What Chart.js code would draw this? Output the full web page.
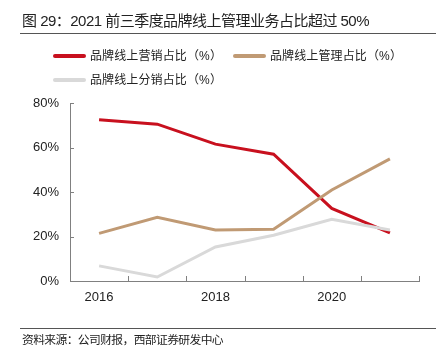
<!DOCTYPE html>
<html><head><meta charset="utf-8">
<script src="https://cdn.jsdelivr.net/npm/chart.js@4/dist/chart.umd.min.js"></script>
<style>
html,body{margin:0;padding:0;background:#fff;}
body{width:439px;height:351px;position:relative;overflow:hidden;font-family:"Liberation Sans","Noto Sans CJK SC",sans-serif;color:#222;text-spacing-trim:space-all;}
#c{position:absolute;left:0;top:0;}
.title{position:absolute;left:22px;top:11px;font-size:15px;line-height:20px;white-space:nowrap;color:#222;}
.rule{position:absolute;left:20px;width:416px;height:1px;background:#555;}
.legend{position:absolute;left:53px;top:47px;width:380px;display:flex;flex-wrap:wrap;column-gap:11px;row-gap:5px;font-size:12px;line-height:18px;}
.item{display:flex;align-items:center;white-space:nowrap;}
.sw{width:33px;height:4px;margin-right:4px;border-radius:2px;}
.src{position:absolute;left:22px;top:332px;font-size:11.8px;line-height:16px;white-space:nowrap;color:#222;}
.fit{display:inline-block;white-space:nowrap;}
</style></head>
<body>
<canvas id="c" width="439" height="351"></canvas>
<div class="title"><span class="fit" data-w="347">图 29：2021 前三季度品牌线上管理业务占比超过 50%</span></div>
<div class="rule" style="top:33px"></div>
<div class="legend" id="legend"></div>
<div class="rule" style="top:328px"></div>
<div class="src"><span class="fit" data-w="201">资料来源：公司财报，西部证券研发中心</span></div>
<script>
const categories = ["2016","2017","2018","2019","2020","2021"];
const marketingShare = [72.5, 70.5, 61.5, 57.0, 32.6, 21.6];
const managementShare = [21.4, 28.6, 22.9, 23.3, 40.9, 54.9];
const distributionShare = [6.8, 1.8, 15.3, 20.6, 27.7, 22.9];
const yTicks = [0, 20, 40, 60, 80];
const seriesNames = ["品牌线上营销占比（%）","品牌线上管理占比（%）","品牌线上分销占比（%）"];
const colors = ["#C8101E","#C09A74","#D9D9D9"];

const legend = document.getElementById('legend');
seriesNames.forEach((n,i)=>{
  const d=document.createElement('div');d.className='item';
  const s=document.createElement('span');s.className='sw';s.style.background=colors[i];
  const t=document.createElement('span');t.className='fit';t.dataset.w='132';t.textContent=n;
  d.appendChild(s);d.appendChild(t);legend.appendChild(d);
});
document.querySelectorAll('.fit').forEach(el=>{
  const target=+el.dataset.w;
  const w=el.getBoundingClientRect().width;
  const n=[...el.textContent].length;
  el.style.letterSpacing=((target-w)/n)+'px';
});
legend.style.rowGap='6px';

const inwardTicks = {
  id:'inwardTicks',
  afterDraw(chart){
    const ctx=chart.ctx, x=chart.scales.x, y=chart.scales.y;
    ctx.save();ctx.strokeStyle='#808080';ctx.lineWidth=1;ctx.beginPath();
    const n=categories.length;
    for(let i=0;i<=n;i++){
      const px=Math.round(x.left+i*(x.right-x.left)/n)+0.5;
      ctx.moveTo(px,y.bottom);ctx.lineTo(px,y.bottom-5);
    }
    y.ticks.forEach(t=>{
      const py=Math.round(y.getPixelForValue(t.value))+0.5;
      ctx.moveTo(x.left,py);ctx.lineTo(x.left+4,py);
    });
    ctx.stroke();ctx.restore();
  }
};

const ds=(label,data,color)=>({label,data,borderColor:color,backgroundColor:color,borderWidth:3,pointRadius:0,tension:0,fill:false});

new Chart(document.getElementById('c'),{
  type:'line',
  data:{labels:categories,datasets:[
    ds(seriesNames[2],distributionShare,colors[2]),
    ds(seriesNames[1],managementShare,colors[1]),
    ds(seriesNames[0],marketingShare,colors[0])
  ]},
  options:{
    responsive:false,animation:false,
    layout:{padding:{left:0,right:20,top:103,bottom:40}},
    plugins:{legend:{display:false},tooltip:{enabled:false}},
    scales:{
      x:{offset:true,
        grid:{display:false,drawTicks:false},
        border:{display:true,color:'#808080',width:1},
        ticks:{autoSkip:false,maxRotation:0,padding:9,color:'#222',font:{family:'"Liberation Sans", Arial, sans-serif',size:13},
          callback:(v,i)=> i%2===0?categories[i]:''},
        afterFit:s=>{s.height=30;}
      },
      y:{min:0,max:80,
        afterBuildTicks:s=>{s.ticks=yTicks.map(v=>({value:v}));},
        grid:{display:false,drawTicks:false},
        border:{display:true,color:'#808080',width:1},
        ticks:{padding:11,color:'#222',font:{family:'"Liberation Sans", Arial, sans-serif',size:13},callback:v=>v+'%'},
        afterFit:s=>{s.width=70;}
      }
    }
  },
  plugins:[inwardTicks]
});
</script>
</body></html>
